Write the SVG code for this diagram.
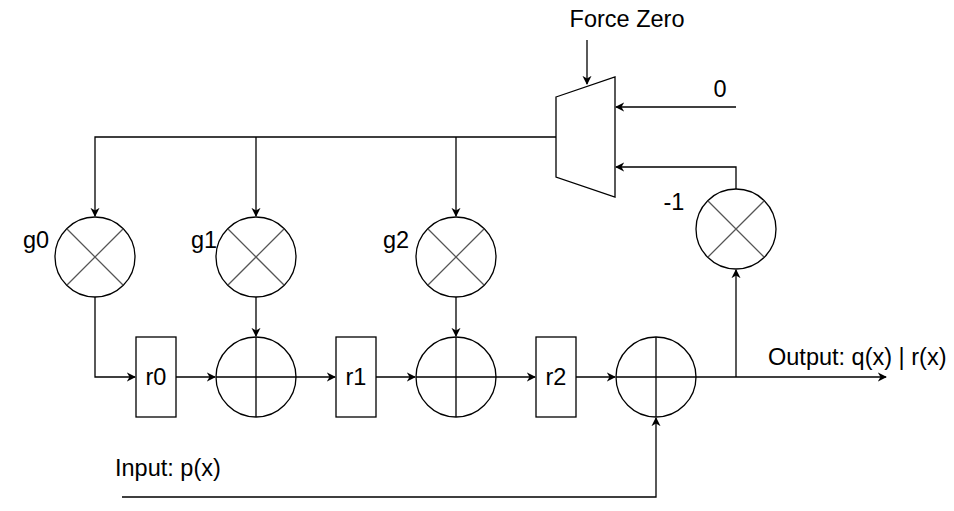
<svg xmlns="http://www.w3.org/2000/svg" width="954" height="511" viewBox="0 0 954 511">
<defs>
<style>
.s{fill:#fff;stroke:#000;stroke-width:1.3}
.x{stroke:#555;stroke-width:1.3;fill:none}
.c{fill:none;stroke:#000;stroke-width:1.3}
text{font-family:"Liberation Sans",Arial,sans-serif;font-size:23.5px;fill:#000}
</style>
<marker id="a" viewBox="0 0 10 10" refX="9" refY="5" markerWidth="7" markerHeight="7" orient="auto"><path d="M0,0 L10,5 L0,10 L3,5 Z" fill="#000"/></marker>
</defs>
<rect width="954" height="511" fill="#fff"/>
<g id="connectors" class="c">
<path d="M587,40 V84" marker-end="url(#a)"/>
<path d="M736,107 H616" marker-end="url(#a)"/>
<path d="M736,189 V167 H616" marker-end="url(#a)"/>
<path d="M556,137 H95 V216" marker-end="url(#a)"/>
<path d="M256,137 V216" marker-end="url(#a)"/>
<path d="M456,137 V216" marker-end="url(#a)"/>
<path d="M95,297 V377 H135" marker-end="url(#a)"/>
<path d="M176,377 H215" marker-end="url(#a)"/>
<path d="M256,297 V336" marker-end="url(#a)"/>
<path d="M296,377 H335" marker-end="url(#a)"/>
<path d="M376,377 H415" marker-end="url(#a)"/>
<path d="M456,297 V336" marker-end="url(#a)"/>
<path d="M496,377 H535" marker-end="url(#a)"/>
<path d="M576,377 H615" marker-end="url(#a)"/>
<path d="M696,377 H886" marker-end="url(#a)"/>
<path d="M736,377 V270" marker-end="url(#a)"/>
<path d="M122,497 H656 V418" marker-end="url(#a)"/>
</g>
<g id="mux"><path class="s" d="M556,97 L615,77 V197 L556,177 Z"/></g>
<g id="g0m"><circle class="s" cx="95" cy="257" r="40"/><path class="x" d="M67,229 L123,285 M123,229 L67,285"/></g>
<g id="g1m"><circle class="s" cx="256" cy="257" r="40"/><path class="x" d="M228,229 L284,285 M284,229 L228,285"/></g>
<g id="g2m"><circle class="s" cx="456" cy="257" r="40"/><path class="x" d="M428,229 L484,285 M484,229 L428,285"/></g>
<g id="negm"><circle class="s" cx="736" cy="229" r="40"/><path class="x" d="M708,201 L764,257 M764,201 L708,257"/></g>
<g id="add0"><circle class="s" cx="256" cy="377" r="40"/><path class="c" d="M216,377 H296 M256,337 V417"/></g>
<g id="add1"><circle class="s" cx="456" cy="377" r="40"/><path class="c" d="M416,377 H496 M456,337 V417"/></g>
<g id="add2"><circle class="s" cx="656" cy="377" r="40"/><path class="c" d="M616,377 H696 M656,337 V417"/></g>
<g id="r0"><rect class="s" x="136" y="337" width="40" height="80"/><text x="156" y="385" text-anchor="middle">r0</text></g>
<g id="r1"><rect class="s" x="336" y="337" width="40" height="80"/><text x="356" y="385" text-anchor="middle">r1</text></g>
<g id="r2"><rect class="s" x="536" y="337" width="40" height="80"/><text x="556" y="385" text-anchor="middle">r2</text></g>
<g id="labels">
<text x="627" y="27" text-anchor="middle">Force Zero</text>
<text x="720" y="97" text-anchor="middle">0</text>
<text x="674" y="210" text-anchor="middle">-1</text>
<text x="36" y="248" text-anchor="middle">g0</text>
<text x="204" y="248" text-anchor="middle">g1</text>
<text x="396" y="248" text-anchor="middle">g2</text>
<text x="768" y="365">Output: q(x) | r(x)</text>
<text x="115" y="476">Input: p(x)</text>
</g>
</svg>
